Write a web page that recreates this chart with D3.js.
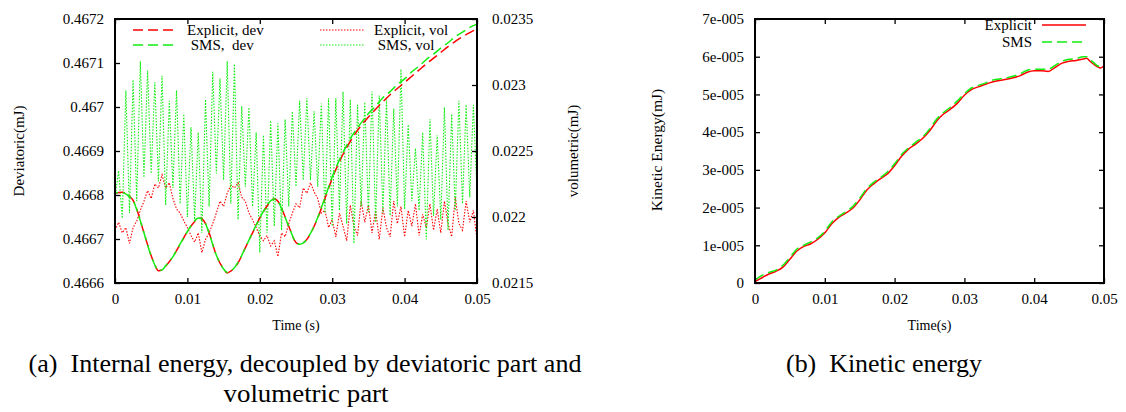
<!DOCTYPE html>
<html>
<head>
<meta charset="utf-8">
<script src="https://cdn.jsdelivr.net/npm/d3@7"></script>
<style>
  body { margin: 0; background: #fff; }
  text { font-family: "Liberation Serif", "Times New Roman", serif; fill: #000; }
</style>
</head>
<body>
<svg id="fig" width="1126" height="412"></svg>
<script>
// ---------- data: panel (a) ----------
const devTime = [0, .001, .002, .0025, .003, .004, .005, .0055, .006, .0065, .007, .008, .009, .010, .011, .0115, .012, .0125, .013, .014,
  .015, .0155, .016, .017, .018, .019, .020, .021, .0215, .022, .0225, .023, .024, .025, .0255, .026, .027, .028, .029, .030,
  .031, .032, .033, .034, .035, .036, .037, .038, .039, .040, .041, .042, .043, .044, .045, .046, .047, .048, .049, .050];
const devExplicit = [0.466804, 0.466806, 0.466797, 0.466788, 0.466768, 0.466714, 0.466662, 0.466641, 0.466628, 0.46663, 0.466638, 0.46666,
  0.466688, 0.466717, 0.46674, 0.466748, 0.466746, 0.466735, 0.466714, 0.466663, 0.466632, 0.466623, 0.466627, 0.466646, 0.46668,
  0.466714, 0.466748, 0.466775, 0.466787, 0.466791, 0.466786, 0.46677, 0.466729, 0.466692, 0.466688, 0.466691, 0.466712, 0.466748,
  0.466792, 0.466838, 0.466876, 0.466908, 0.466935, 0.466958, 0.466977, 0.466995, 0.467012, 0.467028, 0.467042, 0.467056, 0.46707,
  0.467084, 0.467098, 0.467111, 0.467124, 0.467137, 0.467149, 0.46716, 0.467169, 0.467178];
const devSms = [0.466805, 0.466806, 0.466796, 0.466788, 0.466767, 0.466714, 0.466661, 0.466641, 0.466628, 0.46663, 0.466639, 0.46666,
  0.466689, 0.466717, 0.466741, 0.466748, 0.466745, 0.466735, 0.466713, 0.466663, 0.466632, 0.466624, 0.466627, 0.466647, 0.46668,
  0.466715, 0.466748, 0.466776, 0.466787, 0.466791, 0.466786, 0.466769, 0.466729, 0.466692, 0.466688, 0.466691, 0.466713, 0.466749,
  0.466794, 0.466841, 0.46688, 0.466913, 0.466941, 0.466964, 0.466985, 0.467002, 0.467021, 0.467035, 0.467051, 0.467064, 0.46708,
  0.467093, 0.467108, 0.46712, 0.467134, 0.467146, 0.46716, 0.46717, 0.467181, 0.467188];

// volumetric parts, sampled every 0.0005 s from 0 to 0.05
const volStep = 0.0005;
const volExplicit = [0.0219, 0.02196, 0.02188, 0.02192, 0.0218, 0.02192, 0.02197, 0.02205, 0.02212, 0.0222,
  0.02214, 0.02225, 0.02222, 0.02232, 0.02222, 0.02226, 0.02214, 0.02206, 0.02203, 0.02197,
  0.02192, 0.02186, 0.02181, 0.02188, 0.02173, 0.02183, 0.02188, 0.02195, 0.02203, 0.02212,
  0.02208, 0.02218, 0.02224, 0.02222, 0.02226, 0.02215, 0.02212, 0.02203, 0.02198, 0.02192,
  0.02186, 0.02182, 0.02186, 0.02178, 0.02182, 0.0217, 0.02188, 0.02185, 0.02195, 0.02203,
  0.0221, 0.02207, 0.02222, 0.02218, 0.02226, 0.02219, 0.02214, 0.02203, 0.02205, 0.02192,
  0.02198, 0.02185, 0.02203, 0.02193, 0.02182, 0.02209, 0.02193, 0.02186, 0.02212, 0.02196,
  0.02209, 0.02188, 0.02205, 0.02183, 0.02207, 0.02192, 0.02185, 0.02212, 0.02195, 0.02208,
  0.02185, 0.02205, 0.02193, 0.0221, 0.02186, 0.02202, 0.02192, 0.0221, 0.0219, 0.02206,
  0.02188, 0.02212, 0.02195, 0.02185, 0.02215, 0.02195, 0.0219, 0.02212, 0.02196, 0.02205, 0.02183];
const volSms = [0.02215, 0.02235, 0.02199, 0.02296, 0.02203, 0.02304, 0.02212, 0.02318, 0.0223, 0.02311,
  0.02233, 0.02302, 0.02227, 0.02307, 0.02209, 0.02288, 0.02222, 0.02296, 0.0221, 0.02278,
  0.022, 0.02268, 0.02198, 0.02264, 0.02188, 0.02289, 0.02208, 0.0231, 0.02233, 0.02305,
  0.02228, 0.02318, 0.0221, 0.02316, 0.02198, 0.02284, 0.02223, 0.02283, 0.02208, 0.02264,
  0.02173, 0.02262, 0.02188, 0.02273, 0.02193, 0.02271, 0.0219, 0.02274, 0.02208, 0.0228,
  0.02223, 0.02288, 0.02228, 0.0229, 0.02228, 0.0228, 0.02223, 0.02286, 0.02203, 0.0229,
  0.02193, 0.0229, 0.02205, 0.02295, 0.02195, 0.02289, 0.0218, 0.02285, 0.02208, 0.02287,
  0.02203, 0.02295, 0.02196, 0.02292, 0.02203, 0.02289, 0.02201, 0.02282, 0.02208, 0.02312,
  0.02206, 0.0227, 0.02212, 0.02252, 0.02205, 0.02264, 0.02183, 0.02274, 0.02201, 0.02262,
  0.02198, 0.02283, 0.0219, 0.02278, 0.02205, 0.02288, 0.0221, 0.02285, 0.02215, 0.02285, 0.02218];

const aXTicks = [0, 0.01, 0.02, 0.03, 0.04, 0.05];
const aXLabels = ["0", "0.01", "0.02", "0.03", "0.04", "0.05"];
const aYTicks = [0.4666, 0.4667, 0.4668, 0.4669, 0.467, 0.4671, 0.4672];
const aYLabels = ["0.4666", "0.4667", "0.4668", "0.4669", "0.467", "0.4671", "0.4672"];
const aY2Ticks = [0.0215, 0.022, 0.0225, 0.023, 0.0235];
const aY2Labels = ["0.0215", "0.022", "0.0225", "0.023", "0.0235"];
const aLegend = ["Explicit, dev", " SMS,  dev", "Explicit, vol", " SMS, vol"];

// ---------- data: panel (b) ----------
const keTime = [0, .001, .002, .003, .004, .005, .006, .007, .008, .009, .010, .011, .012, .013, .014, .015, .016, .017, .018, .019,
  .020, .021, .022, .023, .024, .025, .026, .027, .028, .029, .030, .031, .032, .033, .034, .035, .036, .037, .038, .039,
  .040, .041, .042, .043, .044, .045, .046, .047, .0475, .048, .049, .0495, .050];
const keExplicit = [0.04e-5, 0.14e-5, 0.24e-5, 0.31e-5, 0.42e-5, 0.63e-5, 0.85e-5, 0.97e-5, 1.04e-5, 1.16e-5,
  1.33e-5, 1.57e-5, 1.74e-5, 1.85e-5, 1.98e-5, 2.2e-5, 2.46e-5, 2.63e-5, 2.77e-5, 2.9e-5,
  3.11e-5, 3.36e-5, 3.55e-5, 3.68e-5, 3.83e-5, 4.03e-5, 4.29e-5, 4.48e-5, 4.61e-5, 4.77e-5,
  4.98e-5, 5.13e-5, 5.2e-5, 5.27e-5, 5.33e-5, 5.37e-5, 5.4e-5, 5.44e-5, 5.5e-5, 5.59e-5,
  5.63e-5, 5.63e-5, 5.61e-5, 5.72e-5, 5.83e-5, 5.88e-5, 5.9e-5, 5.94e-5, 5.96e-5, 5.88e-5, 5.74e-5, 5.7e-5, 5.76e-5];
const keSms = [0.08e-5, 0.2e-5, 0.28e-5, 0.34e-5, 0.47e-5, 0.68e-5, 0.9e-5, 1.0e-5, 1.09e-5, 1.2e-5,
  1.37e-5, 1.62e-5, 1.77e-5, 1.89e-5, 2.03e-5, 2.25e-5, 2.5e-5, 2.67e-5, 2.8e-5, 2.95e-5,
  3.16e-5, 3.41e-5, 3.58e-5, 3.73e-5, 3.87e-5, 4.08e-5, 4.34e-5, 4.52e-5, 4.66e-5, 4.83e-5,
  5.02e-5, 5.17e-5, 5.24e-5, 5.3e-5, 5.38e-5, 5.41e-5, 5.44e-5, 5.48e-5, 5.55e-5, 5.64e-5,
  5.67e-5, 5.67e-5, 5.67e-5, 5.77e-5, 5.88e-5, 5.93e-5, 5.95e-5, 6.0e-5, 6.0e-5, 5.93e-5, 5.77e-5, 5.73e-5, 5.79e-5];

const bYTicks = [0, 1e-5, 2e-5, 3e-5, 4e-5, 5e-5, 6e-5, 7e-5];
const bYLabels = ["0", "1e-005", "2e-005", "3e-005", "4e-005", "5e-005", "6e-005", "7e-005"];
const bLegend = ["Explicit", "SMS"];

const captionA = ["(a)  Internal energy, decoupled by deviatoric part and", "volumetric part"];
const captionB = "(b)  Kinetic energy";

// ---------- setup ----------
const FONT = "'Liberation Serif', 'Times New Roman', serif";
const RED = "#ff0000", GREEN = "#11ee11";
const svg = d3.select("#fig");
svg.append("rect").attr("width", 1126).attr("height", 412).attr("fill", "#fff");

function styleAxis(g) {
  g.select(".domain").remove();
  g.selectAll(".tick line").attr("stroke", "#000").attr("stroke-width", 1.3);
  g.selectAll("text").style("font-family", FONT).attr("font-size", 15).attr("fill", "#000");
}

function addText(x, y, str, size, anchor) {
  return svg.append("text").attr("x", x).attr("y", y)
    .attr("text-anchor", anchor || "start").attr("font-size", size)
    .style("font-family", FONT).style("white-space", "pre").text(str);
}

// ================= panel (a) =================
const A = {left: 115, right: 477, top: 19, bottom: 283};
const xa = d3.scaleLinear().domain([0, 0.05]).range([A.left, A.right]);
const ya = d3.scaleLinear().domain([0.4666, 0.4672]).range([A.bottom, A.top]);
const ya2 = d3.scaleLinear().domain([0.0215, 0.0235]).range([A.bottom, A.top]);

const lineA = d3.line().x(d => xa(d[0])).y(d => ya(d[1])).curve(d3.curveMonotoneX);
const lineA2 = d3.line().x(d => xa(d[0])).y(d => ya2(d[1]));

svg.append("clipPath").attr("id", "clipA")
  .append("rect").attr("x", A.left).attr("y", A.top).attr("width", A.right - A.left).attr("height", A.bottom - A.top);
const plotA = svg.append("g").attr("clip-path", "url(#clipA)");

plotA.append("path").datum(volExplicit.map((v, i) => [i * volStep, v]))
  .attr("fill", "none").attr("stroke", RED).attr("stroke-width", 1.1)
  .attr("stroke-dasharray", "1.5,1.5").attr("d", lineA2);
plotA.append("path").datum(volSms.map((v, i) => [i * volStep, v]))
  .attr("fill", "none").attr("stroke", GREEN).attr("stroke-width", 1.1)
  .attr("stroke-dasharray", "1.5,1.5").attr("d", lineA2);
plotA.append("path").datum(devTime.map((t, i) => [t, devExplicit[i]]))
  .attr("fill", "none").attr("stroke", RED).attr("stroke-width", 1.5)
  .attr("stroke-dasharray", "10,5").attr("d", lineA);
plotA.append("path").datum(devTime.map((t, i) => [t, devSms[i]]))
  .attr("fill", "none").attr("stroke", GREEN).attr("stroke-width", 1.5)
  .attr("stroke-dasharray", "10,5").attr("stroke-dashoffset", 7).attr("d", lineA);

// axes (ticks point inward)
svg.append("g").attr("transform", `translate(0,${A.bottom})`)
  .call(d3.axisBottom(xa).tickValues(aXTicks).tickFormat((d, i) => aXLabels[i]).tickSizeInner(-5).tickSizeOuter(0).tickPadding(10))
  .call(styleAxis);
svg.append("g").attr("transform", `translate(0,${A.top})`)
  .call(d3.axisTop(xa).tickValues(aXTicks).tickFormat("").tickSizeInner(-5).tickSizeOuter(0))
  .call(styleAxis);
svg.append("g").attr("transform", `translate(${A.left},0)`)
  .call(d3.axisLeft(ya).tickValues(aYTicks).tickFormat((d, i) => aYLabels[i]).tickSizeInner(-5).tickSizeOuter(0).tickPadding(11))
  .call(styleAxis);
svg.append("g").attr("transform", `translate(${A.right},0)`)
  .call(d3.axisRight(ya2).tickValues(aY2Ticks).tickFormat((d, i) => aY2Labels[i]).tickSizeInner(-5).tickSizeOuter(0).tickPadding(15))
  .call(styleAxis);

svg.append("rect").attr("x", A.left).attr("y", A.top)
  .attr("width", A.right - A.left).attr("height", A.bottom - A.top)
  .attr("fill", "none").attr("stroke", "#000").attr("stroke-width", 2);

// legend (a)
const legA = [
  {x: 133, y: 30, color: RED, dash: "10,5", w: 1.5},
  {x: 133, y: 45, color: GREEN, dash: "10,5", w: 1.5},
  {x: 320, y: 30, color: RED, dash: "1.5,1.5", w: 1.1},
  {x: 320, y: 45, color: GREEN, dash: "1.5,1.5", w: 1.1}
];
legA.forEach((p, i) => {
  svg.append("line").attr("x1", p.x).attr("x2", p.x + 44).attr("y1", p.y).attr("y2", p.y)
    .attr("stroke", p.color).attr("stroke-width", p.w).attr("stroke-dasharray", p.dash);
  addText(p.x + 54, p.y, aLegend[i], 15).attr("dy", "0.35em");
});

// axis titles (a)
addText(0, 0, "Deviatoric(mJ)", 15, "middle").attr("transform", "translate(24,151) rotate(-90)");
addText(0, 0, "volumetric(mJ)", 15, "middle").attr("transform", "translate(578,151) rotate(-90)");
addText((A.left + A.right) / 2, 330, "Time (s)", 14, "middle");

// ================= panel (b) =================
const B = {left: 755, right: 1104, top: 19, bottom: 283};
const xb = d3.scaleLinear().domain([0, 0.05]).range([B.left, B.right]);
const yb = d3.scaleLinear().domain([0, 7e-5]).range([B.bottom, B.top]);
const lineB = d3.line().x(d => xb(d[0])).y(d => yb(d[1])).curve(d3.curveMonotoneX);

svg.append("path").datum(keTime.map((t, i) => [t, keExplicit[i]]))
  .attr("fill", "none").attr("stroke", RED).attr("stroke-width", 1.5).attr("d", lineB);
svg.append("path").datum(keTime.map((t, i) => [t, keSms[i]]))
  .attr("fill", "none").attr("stroke", GREEN).attr("stroke-width", 1.5)
  .attr("stroke-dasharray", "10,5").attr("d", lineB);

svg.append("g").attr("transform", `translate(0,${B.bottom})`)
  .call(d3.axisBottom(xb).tickValues(aXTicks).tickFormat((d, i) => aXLabels[i]).tickSizeInner(-5).tickSizeOuter(0).tickPadding(10))
  .call(styleAxis);
svg.append("g").attr("transform", `translate(0,${B.top})`)
  .call(d3.axisTop(xb).tickValues(aXTicks).tickFormat("").tickSizeInner(-5).tickSizeOuter(0))
  .call(styleAxis);
svg.append("g").attr("transform", `translate(${B.left},0)`)
  .call(d3.axisLeft(yb).tickValues(bYTicks).tickFormat((d, i) => bYLabels[i]).tickSizeInner(-5).tickSizeOuter(0).tickPadding(11))
  .call(styleAxis);
svg.append("g").attr("transform", `translate(${B.right},0)`)
  .call(d3.axisRight(yb).tickValues(bYTicks).tickFormat("").tickSizeInner(-5).tickSizeOuter(0))
  .call(styleAxis);

svg.append("rect").attr("x", B.left).attr("y", B.top)
  .attr("width", B.right - B.left).attr("height", B.bottom - B.top)
  .attr("fill", "none").attr("stroke", "#000").attr("stroke-width", 2);

// legend (b)
[{y: 25, color: RED, dash: null}, {y: 42, color: GREEN, dash: "10,5"}].forEach((p, i) => {
  svg.append("line").attr("x1", 1042).attr("x2", 1086).attr("y1", p.y).attr("y2", p.y)
    .attr("stroke", p.color).attr("stroke-width", 1.5).attr("stroke-dasharray", p.dash);
  addText(1032, p.y, bLegend[i], 15, "end").attr("dy", "0.35em");
});

addText(0, 0, "Kinetic Energy(mJ)", 15.5, "middle").attr("transform", "translate(662,150) rotate(-90)");
addText((B.left + B.right) / 2, 330, "Time(s)", 14, "middle");

// ---------- captions ----------
addText(305, 372, captionA[0], 26, "middle").attr("textLength", 553).attr("lengthAdjust", "spacingAndGlyphs");
addText(306, 402, captionA[1], 26, "middle").attr("textLength", 165).attr("lengthAdjust", "spacingAndGlyphs");
addText(884, 372, captionB, 26, "middle").attr("textLength", 196).attr("lengthAdjust", "spacingAndGlyphs");
</script>
</body>
</html>
